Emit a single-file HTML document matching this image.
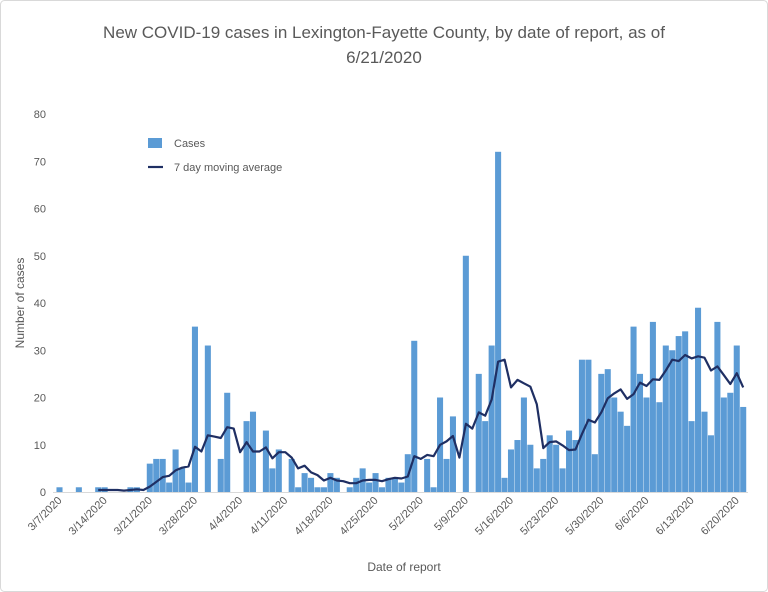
<!DOCTYPE html>
<html><head><meta charset="utf-8"><style>
html,body{margin:0;padding:0;background:#fff;}
svg{display:block;font-family:"Liberation Sans",sans-serif;}
</style></head><body>
<svg id="chart" width="768" height="592" viewBox="0 0 768 592" xmlns="http://www.w3.org/2000/svg">
<rect x="0.5" y="0.5" width="767" height="591" rx="4" fill="#fff" stroke="#d9d9d9"/>
<text x="384" y="38" text-anchor="middle" font-size="17" fill="#595959">New COVID-19 cases in Lexington-Fayette County, by date of report, as of</text>
<text x="384" y="63" text-anchor="middle" font-size="17" fill="#595959">6/21/2020</text>
<text transform="translate(24,303) rotate(-90)" text-anchor="middle" font-size="12" fill="#595959">Number of cases</text>
<text x="404" y="571" text-anchor="middle" font-size="12" fill="#595959">Date of report</text>
<g id="yticks"></g>
<g id="bars"></g>
<line x1="53" y1="492.5" x2="748" y2="492.5" stroke="#d9d9d9"/>
<g id="line"></g>
<g id="xticks"></g>
<g>
<rect x="148" y="138" width="14" height="10" fill="#5b9bd5"/>
<text x="174" y="147" font-size="11" fill="#595959">Cases</text>
<line x1="148" y1="167" x2="163" y2="167" stroke="#1f2f63" stroke-width="2.2"/>
<text x="174" y="171" font-size="11" fill="#595959">7 day moving average</text>
</g>
</svg>
<script>
const cases = [1,0,0,1,0,0,1,1,0,0,0,1,1,0,6,7,7,2,9,5,2,35,0,31,0,7,21,0,0,15,17,0,13,5,9,0,7,1,4,3,1,1,4,3,0,1,3,5,2,4,1,3,3,2,8,32,0,7,1,20,7,16,0,50,0,25,15,31,72,3,9,11,20,10,5,7,12,10,5,13,11,28,28,8,25,26,20,17,14,35,25,20,36,19,31,30,33,34,15,39,17,12,36,20,21,31,18];
const startDate = [3,7];
const yTicks = [0,10,20,30,40,50,60,70,80];
const labelEvery = 7;
const windowSize = 7;

const NS="http://www.w3.org/2000/svg";
const x0=59.5, step=6.45, yBase=492, yPer=(492-114)/80;
const xC=i=>x0+i*step;
const yS=v=>yBase-v*yPer;
function mk(tag,attrs,parent){const e=document.createElementNS(NS,tag);for(const k in attrs)e.setAttribute(k,attrs[k]);parent.appendChild(e);return e;}
const gy=document.getElementById('yticks');
yTicks.forEach(t=>{
  const e=mk('text',{x:46,y:yS(t)+4,'text-anchor':'end','font-size':11,fill:'#595959'},gy);
  
  
  e.textContent=t;
});
const gb=document.getElementById('bars');
cases.forEach((v,i)=>{
  if(v<=0)return;
  const r=mk('rect',{x:xC(i)-step/2+0.2,y:yS(v),width:step-0.4,height:v*yPer,fill:'#5b9bd5'},gb);
  
  
});
const pts=[];
for(let i=windowSize-1;i<cases.length;i++){
  let s=0;for(let j=i-windowSize+1;j<=i;j++)s+=cases[j];
  pts.push(xC(i).toFixed(1)+','+yS(s/windowSize).toFixed(1));
}
const pl=mk('polyline',{points:pts.join(' '),fill:'none',stroke:'#1f2f63','stroke-width':2.2,'stroke-linejoin':'round'},document.getElementById('line'));


const gx=document.getElementById('xticks');
const dim=[0,31,29,31,30,31,30,31,31,30,31,30,31];
for(let i=0;i<cases.length;i+=labelEvery){
  let m=startDate[0],d=startDate[1]+i;
  while(d>dim[m]){d-=dim[m];m++;}
  const x=xC(i)+3,y=501;
  const t=mk('text',{x:x,y:y,'text-anchor':'end','font-size':11,fill:'#595959',transform:'rotate(-45 '+x+' '+y+')'},gx);
  
  
  t.textContent=m+'/'+d+'/2020';
}
</script>
</body></html>
